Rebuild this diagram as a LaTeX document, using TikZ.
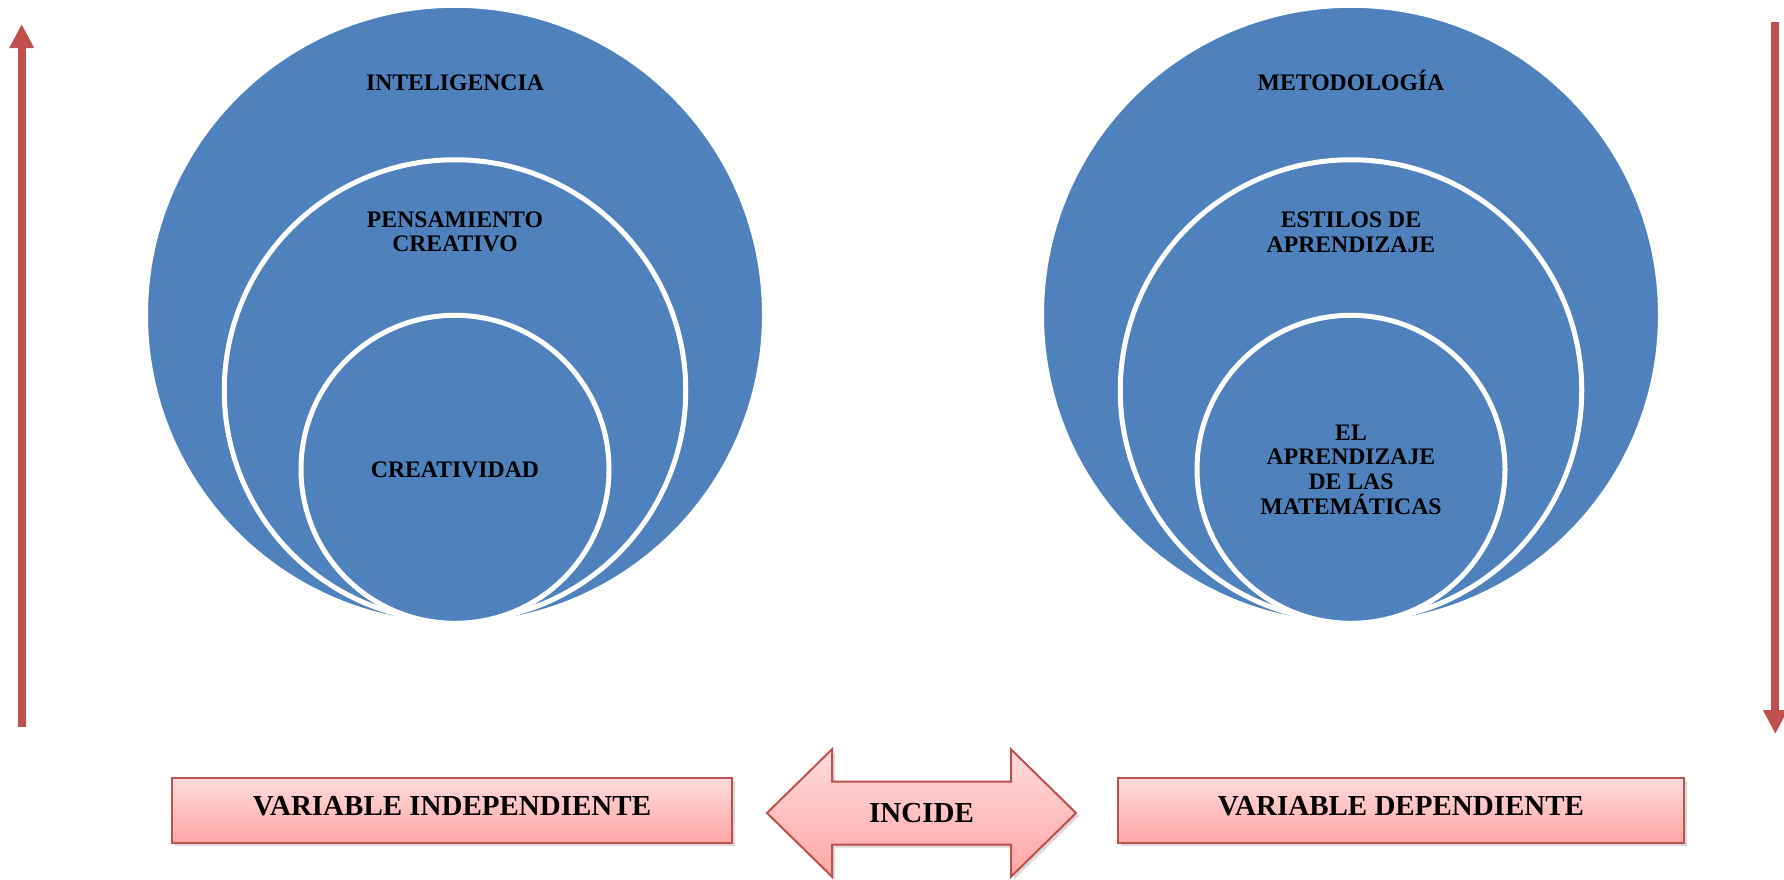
\documentclass[tikz,border=0pt]{standalone}
\usepackage{fontspec}
\setmainfont{Liberation Serif}
\usetikzlibrary{arrows.meta,shadows}
\definecolor{azul}{HTML}{4F81BD}
\definecolor{rojo}{HTML}{C0504D}
\definecolor{rosaclaro}{HTML}{FFDCDC}
\definecolor{rosa}{HTML}{FFA6A6}
\tikzset{
circulo/.style={circle,fill=azul,draw=white,line width=2.5pt,inner sep=0pt},
texto/.style={font=\fontsize{11.85pt}{12.3pt}\selectfont\bfseries,align=center,inner sep=0pt},
rotulo/.style={font=\fontsize{14.5pt}{17pt}\selectfont\bfseries},
sombra/.style={drop shadow={shadow xshift=1.5pt,shadow yshift=-1.5pt,opacity=0.3}},
caja/.style={rectangle,draw=rojo,line width=1pt,top color=rosaclaro,bottom color=rosa,minimum height=32.5pt,rotulo,text depth=4pt,sombra},
doble/.style={draw=rojo,line width=1pt,top color=rosaclaro,bottom color=rosa,line join=miter,sombra},
flecha/.style={-{Triangle[width=11.5pt,length=12pt]},line width=4pt,draw=rojo}}
\begin{document}
\begin{tikzpicture}[x=0.5pt,y=-0.5pt]
\useasboundingbox (0,0) rectangle (1784,879);

% variable independiente
\node[circulo,minimum size=309.5pt] (int) at (455,314.8) {};
\node[circulo,minimum size=230.75pt] (pen) at (455,390.5) {};
\node[circulo,minimum size=154pt] (cre) at (455,469.3) {};
\node[texto,anchor=base] (tint) at (455,90) {INTELIGENCIA};
\node[texto] (tpen) at (455,232) {PENSAMIENTO\\CREATIVO};
\node[texto] (tcre) at (455,469.5) {CREATIVIDAD};

% variable dependiente
\node[circulo,minimum size=309.5pt] (met) at (1351,314.8) {};
\node[circulo,minimum size=230.75pt] (est) at (1351,390.5) {};
\node[circulo,minimum size=154pt] (apr) at (1351,469.3) {};
\node[texto,anchor=base] (tmet) at (1351,90) {METODOLOGÍA};
\node[texto] (test) at (1351,232) {ESTILOS DE\\APRENDIZAJE};
\node[texto] (tapr) at (1351,469.5) {EL\\APRENDIZAJE\\DE LAS\\MATEMÁTICAS};

% flechas verticales
\coordinate (a1) at (21.7,726.5);
\coordinate (a2) at (21.7,24);
\coordinate (b1) at (1775.3,22.4);
\coordinate (b2) at (1775.3,734);
\draw[flecha] (a1) -- (a2);
\draw[flecha] (b1) -- (b2);

% cajas
\node[caja,minimum width=280pt] (vi) at (452,810) {VARIABLE INDEPENDIENTE};
\node[caja,minimum width=283pt] (vd) at (1401,810) {VARIABLE DEPENDIENTE};
\draw[doble] (767,813) -- (832,749.3) -- (832,781.5) -- (1011,781.5) -- (1011,749.3) -- (1076,813) -- (1011,876.7) -- (1011,844.5) -- (832,844.5) -- (832,876.7) -- cycle;
\node[rotulo] (inc) at (921.5,813) {INCIDE};

\end{tikzpicture}
\end{document}
